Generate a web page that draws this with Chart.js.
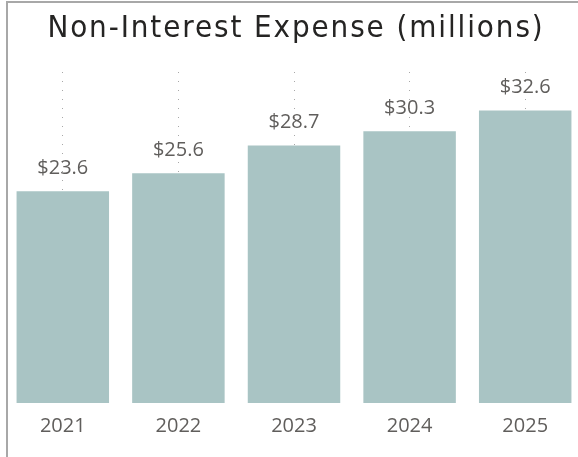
<!DOCTYPE html>
<html>
<head>
<meta charset="utf-8">
<script src="https://cdn.jsdelivr.net/npm/chart.js@4.4.1/dist/chart.umd.min.js"></script>
<style>
  html, body { margin: 0; padding: 0; background: #fff; overflow: hidden; width: 578px; height: 457px; }
  #frame { position: absolute; left: 6px; top: 1px; width: 620px; height: 500px;
           border-left: 2px solid #a8a8a8; border-top: 2px solid #a8a8a8; }
  #wrap { position: absolute; left: 5px; top: 0; width: 578px; height: 457px; }
</style>
</head>
<body>
<div id="frame"></div>
<div id="wrap"><canvas id="chart"></canvas></div>
<script>
// Annual non-interest expense, in millions of dollars
const years = ['2021', '2022', '2023', '2024', '2025'];
const expense = [23.6, 25.6, 28.7, 30.3, 32.6];
const titleText = 'Non-Interest Expense (millions)';

const barColor = '#A9C4C4';
const labelColor = '#605E5C';

// Spaced-out heading above the plot area
const spacedTitle = {
  id: 'spacedTitle',
  afterDraw(chart) {
    const ctx = chart.ctx;
    ctx.save();
    ctx.font = '31px "DejaVu Sans Condensed", sans-serif';
    if ('letterSpacing' in ctx) ctx.letterSpacing = '1.9px';
    ctx.fillStyle = '#252423';
    ctx.textAlign = 'center';
    ctx.textBaseline = 'alphabetic';
    ctx.fillText(titleText, 291, 37);
    ctx.restore();
  }
};

// Writes each bar's value above it, as a dollar amount
const valueLabels = {
  id: 'valueLabels',
  afterDatasetsDraw(chart) {
    const ctx = chart.ctx;
    const meta = chart.getDatasetMeta(0);
    ctx.save();
    ctx.font = '20px "Open Sans", sans-serif';
    ctx.fillStyle = labelColor;
    ctx.textAlign = 'center';
    ctx.textBaseline = 'middle';
    meta.data.forEach((bar, i) => {
      const v = chart.data.datasets[0].data[i];
      ctx.fillText('$' + v.toFixed(1), bar.x, bar.y - 23);
    });
    ctx.restore();
  }
};

new Chart(document.getElementById('chart'), {
  type: 'bar',
  data: {
    labels: years,
    datasets: [{
      data: expense,
      backgroundColor: barColor,
      borderWidth: 0,
      categoryPercentage: 0.8,
      barPercentage: 1.0
    }]
  },
  options: {
    responsive: true,
    maintainAspectRatio: false,
    animation: false,
    layout: { padding: { top: 72, left: 0, right: 0, bottom: 8 } },
    plugins: {
      legend: { display: false },
      tooltip: { enabled: false },
      title: { display: false }
    },
    scales: {
      x: {
        grid: {
          display: true,
          offset: false,
          drawTicks: false,
          color: '#a8a8a8',
          lineWidth: 1
        },
        border: { display: false, dash: [1, 8] },
        ticks: {
          color: labelColor,
          padding: 11,
          font: { family: '"Open Sans", sans-serif', size: 20 }
        }
      },
      y: {
        display: false,
        min: 0,
        max: 36.9
      }
    }
  },
  plugins: [valueLabels, spacedTitle]
});
</script>
</body>
</html>
